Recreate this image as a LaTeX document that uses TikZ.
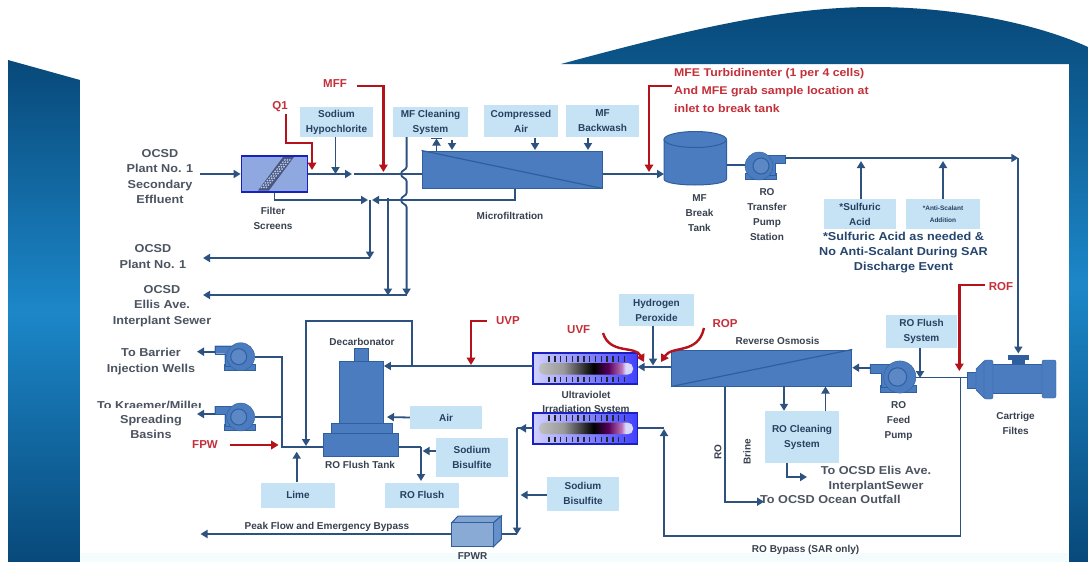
\documentclass[tikz,border=0pt]{standalone}
\usepackage{fontspec}
\setmainfont{Liberation Sans}
\newfontfamily\widefont[FakeStretch=1.1]{Liberation Sans}
\usetikzlibrary{arrows.meta,shapes.geometric}
\definecolor{pipec}{HTML}{2D5280}
\definecolor{redl}{HTML}{B5121B}
\definecolor{redt}{HTML}{C4303A}
\definecolor{boxc}{HTML}{C6E3F6}
\definecolor{unitc}{HTML}{4A7CBF}
\definecolor{unite}{HTML}{2F5F9E}
\definecolor{txt}{HTML}{38414F}
\definecolor{boxt}{HTML}{27405F}
\definecolor{bandd}{HTML}{08497A}
\definecolor{bandl}{HTML}{1C87C8}
\definecolor{uvb}{HTML}{1A1FC0}
\definecolor{filtc}{HTML}{8FA8E0}
\definecolor{hatchc}{HTML}{4A5880}
\pgfdeclarehorizontalshading{uvtube}{100bp}{color(0bp)=(black!25); color(25bp)=(black!25); color(38bp)=(black!40); color(54bp)=(black); color(62bp)=(violet!70!black); color(69bp)=(violet!55); color(71bp)=(blue!15); color(75bp)=(blue!15); color(100bp)=(blue!15)}
\tikzset{
  x=1pt,y=-1pt,
  pipe/.style={draw=pipec,line width=1.8pt},
  flow/.style={pipe,-{Triangle[length=7pt,width=8pt]}},
  redline/.style={draw=redl,line width=2.4pt},
  redflow/.style={redline,-{Triangle[length=7.5pt,width=8.5pt]}},
  chem/.style={fill=boxc,inner sep=0pt,text=boxt,align=center,font=\bfseries\fontsize{10}{15}\selectfont},
  lab/.style={inner sep=0pt,text=txt,align=center,font=\bfseries\fontsize{10}{15}\selectfont},
  biglab/.style={inner sep=0pt,text=txt!90!white,align=center,font=\widefont\bfseries\fontsize{11.5}{15.2}\selectfont},
  redlab/.style={inner sep=0pt,text=redt,align=center,font=\bfseries\fontsize{11.5}{18}\selectfont},
  unit/.style={fill=unitc,draw=unite,line width=1pt,inner sep=0pt},
  pumpsym/.pic={
    \fill[unitc,draw=unite] (-15,7) rectangle (16,13.5);
    \fill[unitc,draw=unite] (-24,-11) -- (4,-11) -- (4,9) -- (-14,9) -- (-14,-3) -- (-24,-3) -- cycle;
    \fill[unitc,draw=unite] (2,0) circle (14);
    \fill[unitc!90!white,draw=unite,line width=1pt] (0,0) circle (8);
  },
  uvunit/.pic={
    \shade[left color=blue!18,right color=blue!75,draw=uvb,line width=1.6pt] (0,0) rectangle (104.6,31);
    \foreach \k in {0,...,13}{
      \draw[black!85,line width=1.4pt] (16+\k*5.8,2.5) -- (16+\k*5.8,8.5);
      \draw[black!85,line width=1.4pt] (16+\k*5.8,24) -- (16+\k*5.8,29);
    }
    \shade[shading=uvtube,rounded corners=5pt] (6,10) rectangle (100,21.5);
  }
}
\begin{document}
\begin{tikzpicture}
\useasboundingbox (0,0) rectangle (1088,562);
\fill[white] (0,0) rectangle (1088,562);
\fill[cyan!4] (80,553) rectangle (1069,562);
% frame bands
\shade[top color=bandd,bottom color=bandd,middle color=bandl] (8,60) -- (80,80) -- (80,562) -- (8,562) -- cycle;
\shade[top color=bandd,bottom color=bandd,middle color=bandl] (561,64) .. controls (680,32) and (780,7) .. (873,7) .. controls (960,7) and (1040,25) .. (1088,47) -- (1088,562) -- (1069,562) -- (1069,64) -- cycle;

% chemical boxes
\node[chem,minimum width=73,minimum height=30] (hypo) at (336.5,122) {Sodium\\Hypochlorite};
\node[chem,minimum width=75,minimum height=30] (mfclean) at (430.5,122) {MF Cleaning\\System};
\node[chem,minimum width=74,minimum height=32] (air1) at (521,121) {Compressed\\Air};
\node[chem,minimum width=73,minimum height=32] (back) at (602.5,121) {MF\\Backwash};
\node[chem,minimum width=72,minimum height=30] (sulf) at (860,214) {*Sulfuric\\Acid};
\node[chem,minimum width=74.5,minimum height=30,font=\bfseries\fontsize{6.5}{12}\selectfont] (anti) at (943,214) {*Anti-Scalant\\Addition};
\node[chem,minimum width=75,minimum height=32] (hyd) at (656.5,310) {Hydrogen\\Peroxide};
\node[chem,minimum width=71,minimum height=33] (flush) at (921.5,331.5) {RO Flush\\System};
\node[chem,minimum width=72,minimum height=23] (airb) at (446,417.5) {Air};
\node[chem,minimum width=72,minimum height=39] (bis1) at (472,457.5) {Sodium\\Bisulfite};
\node[chem,minimum width=72,minimum height=34] (bis2) at (583,493.5) {Sodium\\Bisulfite};
\node[chem,minimum width=74.5,minimum height=25] (lime) at (298,495) {Lime};
\node[chem,minimum width=74.5,minimum height=25] (roflushb) at (422,495) {RO Flush};
\node[chem,minimum width=74,minimum height=52] (rocl) at (802,437) {RO Cleaning\\System};

% helper coordinates
\coordinate (inA) at (200,174);
\coordinate (fo) at (352,174);
\coordinate (fo2) at (354,174);
\coordinate (j1) at (370,200);
\coordinate (wtop) at (388,198);
\coordinate (plant1) at (203,258);
\coordinate (ellis) at (203,295);
\coordinate (main1) at (1018.3,158);

% filter
\node[fill=filtc,draw=uvb,line width=1.8pt,minimum width=66,minimum height=36,inner sep=0pt] (filt) at (274.5,174) {};
\fill[hatchc] (258,190.5) -- (269,190.5) -- (294,157) -- (283,157) -- cycle;
\foreach \o in {-2.5,0,2.5}{
  \draw[filtc!60!white,dash pattern=on 1.6pt off 1.4pt,line width=1.2pt] (263.5+\o,188) -- (288.5+\o,158.5);
}
% MF unit
\node[unit,minimum width=180,minimum height=37] (mf) at (512,169.5) {};
\draw[unite,line width=1.2pt] (mf.north west) -- (mf.south east);

% upper pipes
\draw[flow] (inA) -- (filt.west);
\draw[flow] (filt.east) -- (fo);
\draw[pipe] (fo2) -- (mf.west |- fo2);
\draw[flow] (hypo.south -| 335.5,0) -- (335.5,174);
\draw[flow] (mf.south -| 515,0) -- (515,200) -- (372,200);
\draw[flow] (filt.south) -- (filt.south |- j1) -- (368,200);
\draw[flow] (j1) -- (370,258.5);
\draw[flow] (370,258) -- (plant1);
\draw[flow] (wtop) -- (388,295.5);
\draw[pipe,-{Triangle[length=7pt,width=8pt]}] (406.6,137) -- (406.6,167) .. controls (406.6,170) and (401,170) .. (401,174) .. controls (401,178) and (406.6,178) .. (406.6,181) -- (406.6,193) .. controls (406.6,196) and (401,196) .. (401,200) .. controls (401,204) and (406.6,204) .. (406.6,207) -- (406.6,295.5);
\draw[flow] (406.6,295) -- (ellis);
\draw[flow] (436.5,151) -- (436.5,138.5);
\draw[pipe] (431,138.5) -- (442,138.5);
\draw[flow] (452,140) -- (452,150);
\draw[flow] (535,138) -- (535,150);
\draw[flow] (588,138) -- (588,150);
% tank
\draw[unit] (664,140) -- (664,179) .. controls (664,183) and (680,185) .. (695,185) .. controls (710,185) and (726.5,183) .. (726.5,179) -- (726.5,140) -- cycle;
\node[unit,ellipse,minimum width=62.5,minimum height=16] (tanktop) at (695.2,139.5) {};
\coordinate (tankin) at (664,174);
\coordinate (tankout) at (726.5,165);
\draw[flow] (mf.east |- tankin) -- (tankin);
\draw[pipe] (tankout) -- (750,165);
% RO transfer pump
\pic[xscale=-1] at (761,166) {pumpsym};
\draw[flow] (785,158) -- (main1);
\draw[pipe] (main1) -- (1018.3,340);
\draw[flow] (1018.3,340) -- (1018.3,353.5);
\draw[flow] (sulf.north -| 861,0) -- (861,161);
\draw[flow] (anti.north) -- (943,161);

% cartridge filter
\fill[unite] (1008,354.5) rectangle (1029,360);
\fill[unite] (1012,360) rectangle (1025,365);
\fill[unitc,draw=unite] (967,372) rectangle (976,388);
\fill[unitc,draw=unite] (976,369) -- (984,361) -- (991,361) -- (991,398) -- (984,398) -- (976,390) -- cycle;
\node[unit,minimum width=54,minimum height=29] (cart) at (1017,379) {};
\fill[unitc,draw=unite,rounded corners=2pt] (1042,360) rectangle (1056,398);
\fill[unitc,draw=unite,rounded corners=2pt] (984,360) rectangle (993,399);

% reverse osmosis
\node[unit,minimum width=180,minimum height=36] (ro) at (761.7,368) {};
\draw[unite,line width=1.2pt] (ro.south west) -- (ro.north east);
\pic[scale=1.15] at (897.5,377) {pumpsym};
\coordinate (bp) at (960.5,377.5);
\draw[pipe] (cart.west -| 967,0) ++(0,-1.5) -- (916,377.5);
\draw[flow] (bp) -- (960.5,535.7) -- (664,535.7) -- (664,429);
\draw[flow] (871,367.7) -- (ro.east |- 871,367.7);
\draw[flow] (flush.south -| 920,0) -- (920,378);
\draw[flow] (784,386) -- (rocl.north -| 784,0);
\draw[flow] (825.5,411) -- (ro.south -| 825.5,0);
\draw[flow] (787,463) -- (787,477) -- (807,477);
\draw[flow] (ro.south -| 725,0) -- (725,501.7) -- (764,501.7);

% UV
\node[lab] (uvtxt1) at (586,395) {Ultraviolet};
\node[lab] (uvtxt2) at (586,410) {Irradiation System};
\pic at (533,353) {uvunit};
\pic at (533,412.7) {uvunit};
\draw[flow] (ro.west |- 672,367) -- (637.6,367);
\draw[pipe] (637.6,428.3) -- (664,428.3);
\draw[flow] (653,326) -- (653,365.5);

% decarbonator
\node[unit,minimum width=14,minimum height=13] (dc1) at (361,354.5) {};
\node[unit,minimum width=44.4,minimum height=62] (dc2) at (361.2,392) {};
\node[unit,minimum width=60.6,minimum height=10] (dc3) at (361.7,428) {};
\node[unit,minimum width=75,minimum height=23] (dc4) at (360.9,444.5) {};
\coordinate (dcin) at (dc2.east |- 0,366);
\draw[flow] (533,366) -- (dcin);
\draw[flow] (412,366) -- (412,320.7) -- (306,320.7) -- (306,446);
\draw[pipe] (255,356.7) -- (282,356.7) -- (282,446.7) -- (dc4.west |- 0,446.7);
\draw[pipe] (255,417) -- (282,417);
\draw[flow] (lime.north -| 296.7,0) -- (296.7,451.7);
\draw[flow] (airb.west) -- (387,417);
\draw[pipe] (dc4.east |- 0,446.7) -- (421,446.7);
\draw[flow] (421,446.7) -- (421,481);
\draw[flow] (bis1.west |- 0,451) -- (422.6,451);
% kraemer text with its clipped lower edge
\node[biglab] (kraemer) at (150,405) {To Kraemer/Miller};
\fill[white] (90,407.5) rectangle (250,413.5);
\fill[white] (201,398) rectangle (250,413);
% pumps
\pic at (238.7,356.7) {pumpsym};
\pic at (238.7,417) {pumpsym};
\draw[flow] (215,351.7) -- (197,351.7);
\draw[flow] (215,414) -- (197,414);

% lower left
\draw[pipe] (533,428.3) -- (517,428.3);
\draw[flow] (530,428.3) -- (519,428.3);
\draw[flow] (517,428.3) -- (517,534.5);
\draw[flow] (bis2.west |- 0,495) -- (520.6,495);
\draw[pipe] (517,534) -- (493,534);
\fill[unitc!70!white,draw=unite,line width=1pt] (451.8,522.7) -- (458,516) -- (501.4,516) -- (493.4,522.7) -- cycle;
\fill[unitc!85!white,draw=unite,line width=1pt] (493.4,522.7) -- (501.4,516) -- (501.4,539) -- (493.4,546.7) -- cycle;
\node[draw=unite,fill=unitc!65!white,line width=1pt,minimum width=41.6,minimum height=24,inner sep=0pt] (fpwr) at (472.6,534.7) {};
\draw[flow] (fpwr.west |- 0,534) -- (200.5,534);

% red sampling points
\draw[redflow] (286,114) -- (286,143) -- (312,143) -- (312,170);
\draw[redflow] (357,86) -- (383.4,86) -- (383.4,172);
\draw[redflow] (672,86) -- (649,86) -- (649,172);
\draw[redflow] (984.7,285) -- (959.3,285) -- (959.3,371);
\draw[redflow] (487,321) -- (471,321) -- (471,365);
\draw[redflow] (230,445) -- (278.6,445);
\draw[redflow] (603,333) .. controls (610,355) and (635,345) .. (644,362);
\draw[redflow] (704,328) .. controls (698,355) and (672,345) .. (661,362);
\node[redlab] (q1) at (280,107) {Q1};
\node[redlab] (mff) at (335,84) {MFF};
\node[redlab,align=left,anchor=west,font=\widefont\bfseries\fontsize{11.2}{18}\selectfont] (mfe) at (674,90) {MFE Turbidinenter (1 per 4 cells)\\And MFE grab sample location at\\inlet to break tank};
\node[redlab] (rof) at (1001,287) {ROF};
\node[redlab] (uvp) at (508,321) {UVP};
\node[redlab] (uvf) at (578.7,330) {UVF};
\node[redlab] (rop) at (725,324) {ROP};
\node[redlab] (fpw) at (205,445) {FPW};

% labels
\node[biglab] (t1) at (160,176.5) {OCSD\\Plant No. 1\\Secondary\\Effluent};
\node[biglab] (t2) at (153,256.5) {OCSD\\Plant No. 1};
\node[biglab] (t3) at (162,306) {OCSD\\Ellis Ave.\\Interplant Sewer};
\node[lab] (t4) at (273,218) {Filter\\Screens};
\node[lab] (t5) at (510,216) {Microfiltration};
\node[lab] (t6) at (699.5,213) {MF\\Break\\Tank};
\node[lab] (t7) at (767,214.5) {RO\\Transfer\\Pump\\Station};
\node[biglab,text=pipec!85!black,font=\widefont\bfseries\fontsize{11.5}{14.6}\selectfont] (t8) at (903.5,252.5) {*Sulfuric Acid as needed \&\\No Anti-Scalant During SAR\\Discharge Event};
\node[lab] (t9) at (777.5,341) {Reverse Osmosis};
\node[lab] (t10) at (898.6,421.5) {RO\\Feed\\Pump};
\node[lab] (t11) at (1015.6,423) {Cartrige\\Filtes};
\node[lab,rotate=90] (t12) at (718,452) {RO};
\node[lab,rotate=90] (t13) at (747,452) {Brine};
\node[biglab] (t14) at (876,479) {To OCSD Elis Ave.\\[-1pt]InterplantSewer};
\node[biglab,anchor=west] (t15) at (760,499.5) {To OCSD Ocean Outfall};
\node[lab] (t16) at (805.6,550) {RO Bypass (SAR only)};
\node[lab] (t17) at (362,342) {Decarbonator};
\node[lab] (t18) at (360,465) {RO Flush Tank};
\node[biglab] (t19) at (151,361.5) {To Barrier\\Injection Wells};
\node[biglab] (t20) at (151,426.5) {Spreading\\Basins};
\node[lab] (t21) at (327,527) {Peak Flow and Emergency Bypass};
\node[lab] (t22) at (472.6,556) {FPWR};
\end{tikzpicture}
\end{document}
